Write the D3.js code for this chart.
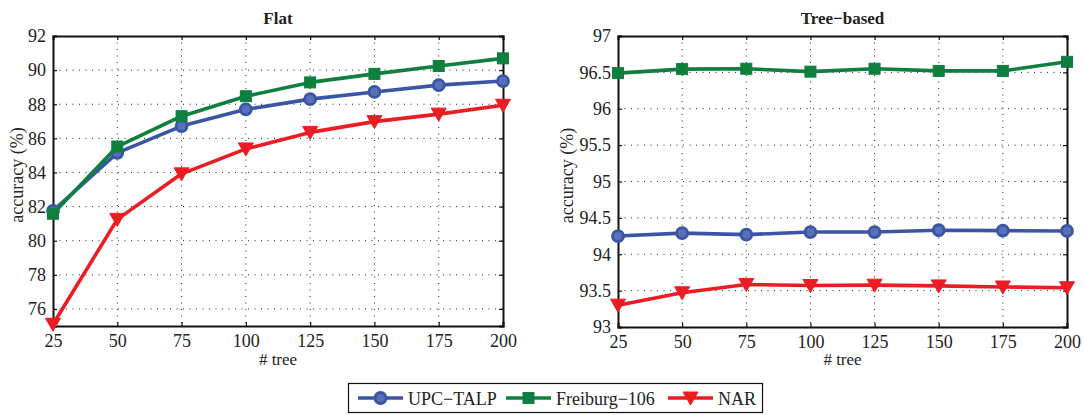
<!DOCTYPE html>
<html><head><meta charset="utf-8">
<script src="https://cdn.jsdelivr.net/npm/d3@7"></script>
<style>
body{margin:0;background:#fff;}
text{font-family:"Liberation Serif","Times New Roman",serif;fill:#222;}
</style></head><body>
<svg id="c" width="1084" height="415"></svg>
<script>
const trees = [25, 50, 75, 100, 125, 150, 175, 200];
const seriesNames = ["UPC\u2212TALP", "Freiburg\u2212106", "NAR"];
const flatUPC = [81.75, 85.15, 86.72, 87.7, 88.3, 88.72, 89.12, 89.36];
const flatFreiburg = [81.58, 85.52, 87.3, 88.47, 89.28, 89.78, 90.24, 90.69];
const flatNAR = [75.1, 81.25, 83.92, 85.38, 86.35, 86.98, 87.42, 87.94];
const treeUPC = [94.25, 94.29, 94.27, 94.305, 94.305, 94.33, 94.325, 94.32];
const treeFreiburg = [96.49, 96.545, 96.55, 96.51, 96.55, 96.52, 96.52, 96.645];
const treeNAR = [93.3, 93.47, 93.585, 93.57, 93.575, 93.565, 93.55, 93.54];
const flatYTicks = [76, 78, 80, 82, 84, 86, 88, 90, 92];
const treeYTicks = [93, 93.5, 94, 94.5, 95, 95.5, 96, 96.5, 97];
const titles = ["Flat", "Tree\u2212based"];
const xLabel = "# tree";
const yLabel = "accuracy (%)";

const colors = ["#3a55a5", "#0e7f3f", "#ec1c24"];
const symbols = ["circle", "square", "tri"];
const FONT = '"Liberation Serif","Times New Roman",serif';

const svg = d3.select("#c");

function marker(g, type, color, x, y) {
  if (type === "circle") {
    g.append("circle").attr("cx", x).attr("cy", y).attr("r", 5.5)
      .attr("fill", "#5a70b4").attr("stroke", color).attr("stroke-width", 2.8);
  } else if (type === "square") {
    g.append("rect").attr("x", x - 5.5).attr("y", y - 5.5).attr("width", 11).attr("height", 11)
      .attr("fill", color).attr("stroke", color).attr("stroke-width", 1);
  } else {
    g.append("path").attr("d", `M${x-7.5},${y-6} L${x+7.5},${y-6} L${x},${y+7} Z`)
      .attr("fill", color).attr("stroke", color).attr("stroke-width", 1).attr("stroke-linejoin", "round");
  }
}

function panel(left, right, top, bottom, yDomain, yTicks, data, title, ylabX, tickFmt) {
  const x = d3.scaleLinear().domain([25, 200]).range([left, right]);
  const y = d3.scaleLinear().domain(yDomain).range([bottom, top]);
  const g = svg.append("g");
  // grid
  g.selectAll(".gx").data(trees.slice(1, -1)).enter().append("line")
    .attr("x1", d => x(d)).attr("x2", d => x(d)).attr("y1", top).attr("y2", bottom)
    .attr("stroke", "#222").attr("stroke-width", 1).attr("stroke-dasharray", "1,5.5");
  g.selectAll(".gy").data(yTicks.filter(t => t !== yDomain[0] && t !== yDomain[1])).enter().append("line")
    .attr("x1", left).attr("x2", right).attr("y1", d => y(d)).attr("y2", d => y(d))
    .attr("stroke", "#222").attr("stroke-width", 1).attr("stroke-dasharray", "1,5.5");
  // axes
  const ax = g.append("g").attr("transform", `translate(0,${bottom})`)
    .call(d3.axisBottom(x).tickValues(trees).tickSize(-4).tickPadding(8).tickFormat(d3.format("d")));
  const axTop = g.append("g").attr("transform", `translate(0,${top})`)
    .call(d3.axisTop(x).tickValues(trees).tickSize(-4).tickFormat(""));
  const ay = g.append("g").attr("transform", `translate(${left},0)`)
    .call(d3.axisLeft(y).tickValues(yTicks).tickSize(-4).tickPadding(7).tickFormat(tickFmt));
  const ayR = g.append("g").attr("transform", `translate(${right},0)`)
    .call(d3.axisRight(y).tickValues(yTicks).tickSize(-4).tickFormat(""));
  [ax, axTop, ay, ayR].forEach(a => {
    a.attr("font-family", FONT).attr("font-size", 18);
    a.select(".domain").attr("stroke", "#111").attr("stroke-width", 2);
    a.selectAll(".tick line").attr("stroke", "#111").attr("stroke-width", 1.2);
    a.selectAll("text").style("font-family", FONT).style("font-size", "18px").attr("fill", "#222");
  });
  // title
  g.append("text").attr("x", (left + right) / 2).attr("y", 24).attr("text-anchor", "middle")
    .style("font-size", "17px").style("font-weight", "bold").text(title);
  g.append("text").attr("x", (left + right) / 2).attr("y", 365).attr("text-anchor", "middle")
    .style("font-size", "17px").text(xLabel);
  g.append("text").attr("transform", `translate(${ylabX},${(top + bottom) / 2 - 6}) rotate(-90)`)
    .attr("text-anchor", "middle").style("font-size", "18px").text(yLabel);
  // lines
  data.forEach((vals, i) => {
    const line = d3.line().x((d, j) => x(trees[j])).y(d => y(d));
    g.append("path").datum(vals).attr("d", line).attr("fill", "none")
      .attr("stroke", colors[i]).attr("stroke-width", 3.6).attr("stroke-linejoin", "round");
    vals.forEach((v, j) => marker(g, symbols[i], colors[i], x(trees[j]), y(v)));
  });
}

panel(53, 503, 36, 326, [75, 92], flatYTicks, [flatUPC, flatFreiburg, flatNAR], titles[0], 23, d3.format("d"));
panel(618, 1067, 36, 327, [93, 97], treeYTicks, [treeUPC, treeFreiburg, treeNAR], titles[1], 573, d => d % 1 === 0 ? d3.format("d")(d) : d3.format(".1f")(d));

// legend
const lg = svg.append("g");
lg.append("rect").attr("x", 348.5).attr("y", 383.5).attr("width", 414).attr("height", 29)
  .attr("fill", "#fff").attr("stroke", "#111").attr("stroke-width", 1.2);
const legX = [358, 506, 668];
seriesNames.forEach((n, i) => {
  lg.append("line").attr("x1", legX[i]).attr("x2", legX[i] + 45).attr("y1", 398).attr("y2", 398)
    .attr("stroke", colors[i]).attr("stroke-width", 3.6);
  marker(lg, symbols[i], colors[i], legX[i] + 22.5, 398);
  lg.append("text").attr("x", legX[i] + 50).attr("y", 404.5).style("font-size", "18px").text(n);
});
</script></body></html>
